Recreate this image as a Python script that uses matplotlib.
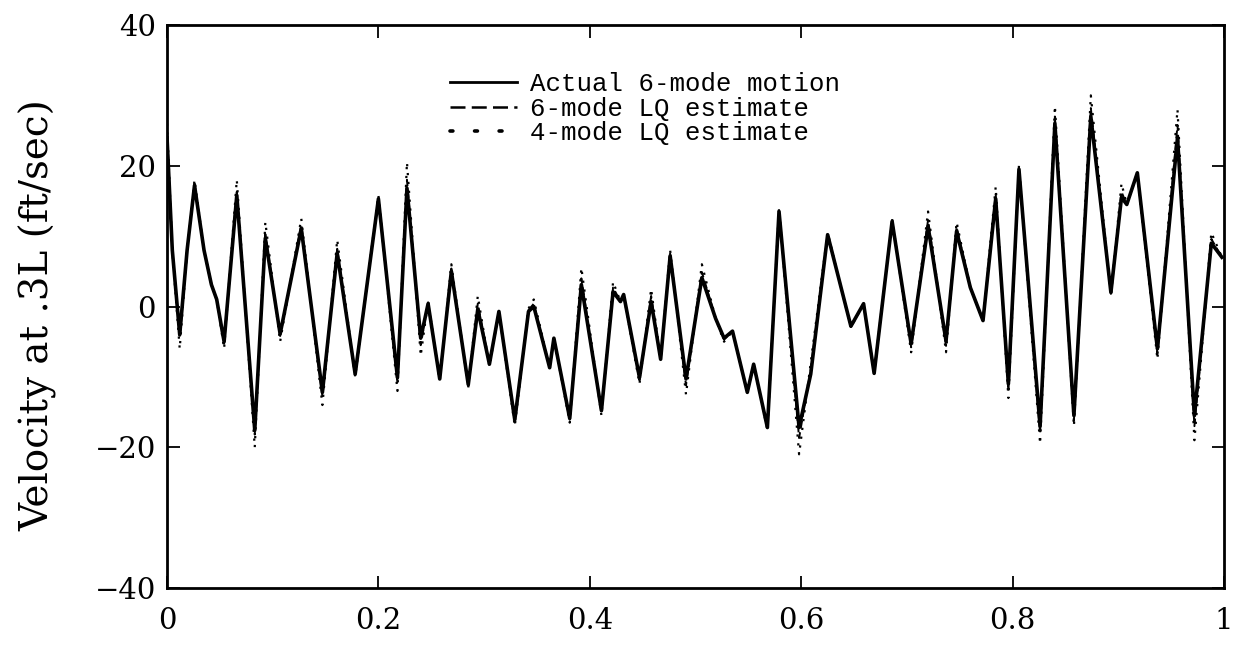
import matplotlib
matplotlib.use("Agg")
import matplotlib.pyplot as plt
from matplotlib.lines import Line2D

# Beam velocity at 0.3L: actual 6-mode response and two LQ estimates
t = [0.000, 0.005, 0.012, 0.019, 0.026, 0.035, 0.042, 0.047, 0.054, 0.066,
     0.083, 0.093, 0.107, 0.127, 0.147, 0.161, 0.178, 0.200, 0.218, 0.227,
     0.240, 0.247, 0.258, 0.269, 0.285, 0.294, 0.305, 0.314, 0.329, 0.342,
     0.347, 0.362, 0.366, 0.381, 0.392, 0.411, 0.422, 0.429, 0.432, 0.447,
     0.458, 0.467, 0.476, 0.491, 0.506, 0.519, 0.527, 0.535, 0.549, 0.555,
     0.568, 0.579, 0.598, 0.609, 0.625, 0.647, 0.659, 0.669, 0.686, 0.704,
     0.720, 0.737, 0.747, 0.760, 0.772, 0.784, 0.796, 0.806, 0.826, 0.840,
     0.858, 0.874, 0.893, 0.903, 0.908, 0.918, 0.937, 0.956, 0.972, 0.988,
     0.998]

actual = [24.0, 8.0, -4.0, 8.0, 17.2, 8.0, 3.1, 1.0, -5.0, 15.8,
          -17.6, 9.7, -3.9, 11.1, -12.2, 7.6, -9.6, 15.3, -10.1, 16.8,
          -4.5, 0.4, -10.3, 5.0, -11.1, -0.4, -8.2, -0.7, -16.1, -0.7,
          0.0, -8.7, -4.5, -15.9, 3.1, -14.8, 2.1, 0.7, 1.7, -10.1,
          0.7, -7.5, 7.2, -10.3, 4.1, -1.7, -4.5, -3.5, -12.2, -8.2,
          -17.2, 13.5, -17.2, -9.6, 10.2, -2.8, 0.4, -9.5, 12.1, -5.3,
          11.4, -4.9, 10.7, 2.7, -2.0, 15.3, -11.0, 19.5, -17.0, 26.0,
          -15.5, 27.0, 2.0, 15.5, 14.5, 19.0, -6.0, 24.0, -15.5, 9.0,
          7.0]

lq6 = [25.0, 8.0, -4.5, 8.0, 17.5, 8.0, 3.1, 1.0, -5.3, 16.3,
       -18.2, 10.3, -4.2, 11.6, -12.8, 8.2, -9.8, 15.5, -10.8, 18.0,
       -5.5, 0.6, -10.4, 5.4, -11.3, 0.4, -8.3, -0.7, -16.5, -0.5,
       0.4, -8.7, -4.5, -16.1, 4.0, -15.1, 2.7, 0.7, 1.7, -10.5,
       1.5, -7.5, 7.5, -11.2, 4.9, -1.7, -4.7, -3.5, -12.2, -8.2,
       -17.3, 13.7, -18.7, -9.0, 10.3, -2.9, 0.4, -9.5, 12.3, -5.8,
       12.3, -5.6, 11.3, 2.7, -2.0, 16.0, -12.0, 19.7, -18.0, 27.0,
       -16.2, 28.2, 1.8, 16.3, 14.5, 19.0, -6.7, 25.8, -17.0, 9.6,
       7.0]

lq4 = [26.0, 8.0, -6.0, 8.0, 18.0, 8.0, 3.1, 1.0, -6.0, 18.0,
       -20.0, 12.0, -5.0, 12.5, -14.0, 9.5, -10.0, 15.8, -12.0, 20.5,
       -7.0, 0.8, -10.5, 6.0, -11.5, 1.5, -8.5, -0.7, -17.0, -0.3,
       1.0, -8.7, -4.5, -16.5, 5.5, -15.5, 3.5, 0.7, 1.7, -11.0,
       2.5, -7.5, 8.0, -12.5, 6.0, -1.7, -5.0, -3.5, -12.2, -8.2,
       -17.5, 14.0, -21.0, -8.0, 10.5, -3.0, 0.4, -9.5, 12.5, -6.5,
       13.5, -6.5, 12.0, 2.7, -2.0, 17.0, -13.0, 20.0, -19.5, 28.5,
       -17.0, 30.0, 1.5, 17.5, 14.5, 19.0, -7.5, 28.0, -19.0, 10.5,
       7.0]

labels = ["Actual 6-mode motion", "6-mode LQ estimate", "4-mode LQ estimate"]

xticks = [0, 0.2, 0.4, 0.6, 0.8, 1]
xticklabels = ["0", "0.2", "0.4", "0.6", "0.8", "1"]
yticks = [-40, -20, 0, 20, 40]
yticklabels = ["\u221240", "\u221220", "0", "20", "40"]

fig = plt.figure(figsize=(12.4, 6.48), dpi=100)
ax = fig.add_axes([0.1347, 0.0926, 0.8524, 0.8688])

ax.plot(t, actual, color="black", lw=2.6, solid_joinstyle="round")
ax.plot(t, lq6, color="black", lw=1.4, ls=(0, (4, 2)))
ax.plot(t, lq4, color="black", lw=1.6, ls=(0, (1, 3)))

ax.set_xlim(0, 1)
ax.set_ylim(-40, 40)
ax.set_xticks(xticks)
ax.set_xticklabels(xticklabels)
ax.set_yticks(yticks)
ax.set_yticklabels(yticklabels)

serif = ["DejaVu Serif"]
for lab in ax.get_xticklabels() + ax.get_yticklabels():
    lab.set_family(serif)
    lab.set_fontsize(21)
ax.tick_params(direction="in", length=9, width=1.3, top=True, right=True)
ax.tick_params(axis="x", pad=14)
ax.tick_params(axis="y", pad=8)
for sp in ax.spines.values():
    sp.set_linewidth(2.0)

fig.text(0.031, 0.514, "Velocity at .3L (ft/sec)", rotation=90,
         ha="center", va="center", family=serif, fontsize=28)

# legend keys drawn with coarser dashes/dots than the traces
handles = [
    Line2D([], [], color="black", lw=2.0),
    Line2D([], [], color="black", lw=1.8, ls=(0, (6, 2.5))),
    Line2D([], [], color="black", lw=2.6, ls=(0, (0.8, 6)),
           dash_capstyle="round"),
]
ax.legend(handles, labels, loc="upper left", bbox_to_anchor=(0.268, 0.917),
          frameon=False, borderpad=0, borderaxespad=0, handlelength=2.6,
          handletextpad=0.5, labelspacing=0.03,
          prop={"family": "Liberation Mono", "size": 18.5})

fig.savefig("out.png", dpi=100)
